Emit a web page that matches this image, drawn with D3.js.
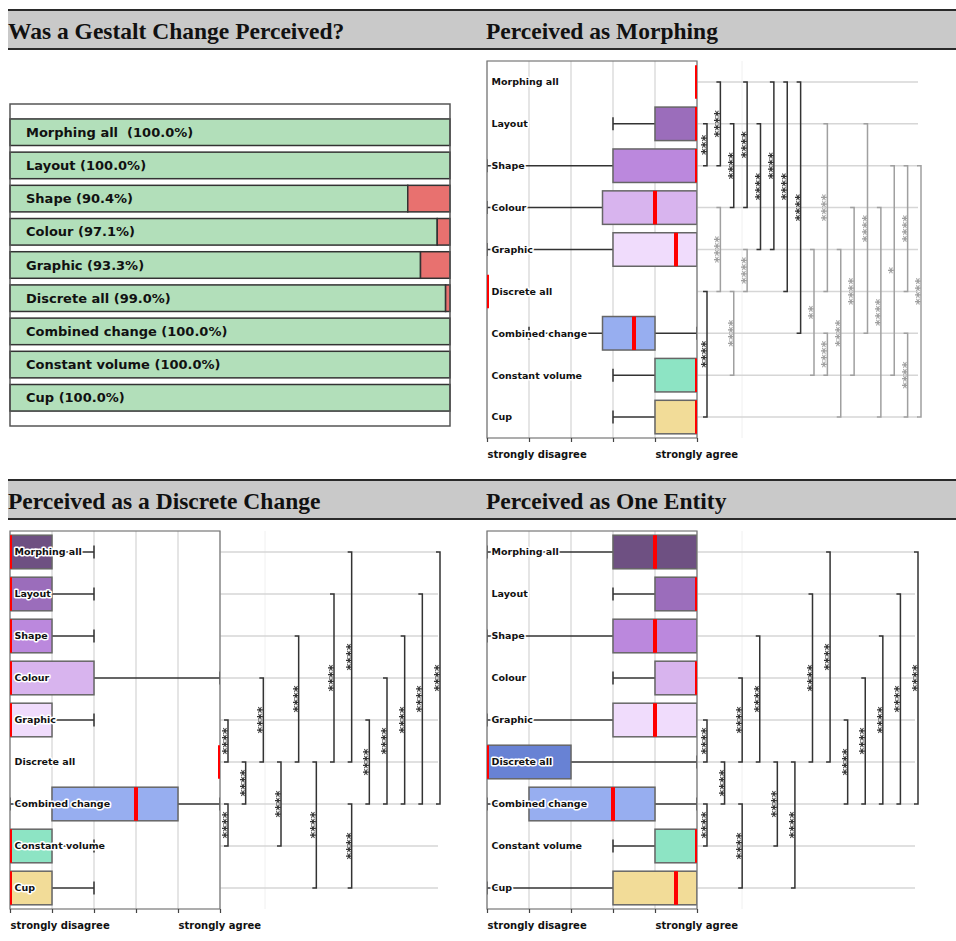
<!DOCTYPE html>
<html>
<head>
<meta charset="utf-8">
<script src="https://cdn.jsdelivr.net/npm/d3@7"></script>
<style>
  body { margin: 0; background: #fff; }
  text { font-family: "DejaVu Sans", sans-serif; }
  .stars { opacity: 0.995; will-change: transform; }
</style>
</head>
<body>
<div id="chart"></div>
<script>
// categories shared by all four panels
const categories = ["Morphing all", "Layout", "Shape", "Colour", "Graphic", "Discrete all", "Combined change", "Constant volume", "Cup"];
const boxColors = ["#6e5082", "#9b6dbb", "#bb88dd", "#d8b4ee", "#f0dcfc", "#6882d4", "#97aef0", "#8de4c4", "#f2dc98"];

// top left: share that perceived a gestalt change
const gestaltLabels = ["Morphing all  (100.0%)", "Layout (100.0%)", "Shape (90.4%)", "Colour (97.1%)", "Graphic (93.3%)", "Discrete all (99.0%)", "Combined change (100.0%)", "Constant volume (100.0%)", "Cup (100.0%)"];
const gestaltPct = [100.0, 100.0, 90.4, 97.1, 93.3, 99.0, 100.0, 100.0, 100.0];

const tickLabels = ["strongly disagree", "", "", "", "strongly agree", ""];
const headerTitles = [["Was a Gestalt Change Perceived?", "Perceived as Morphing"], ["Perceived as a Discrete Change", "Perceived as One Entity"]];

// box stats: [whisker low, q1, median, q3, whisker high]
const morphingStats = [
    [5, 5, 5, 5, 5], [3, 4, 5, 5, 5], [0, 3, 5, 5, 5], [0, 2.75, 4, 5, 5], [0, 3, 4.5, 5, 5],
    [0, 0, 0, 0, 0], [1, 2.75, 3.5, 4, 5], [3, 4, 5, 5, 5], [3, 4, 5, 5, 5]
];
const discreteStats = [
    [0, 0, 0, 1, 2], [0, 0, 0, 1, 2], [0, 0, 0, 1, 2], [0, 0, 0, 2, 5], [0, 0, 0, 1, 2],
    [5, 5, 5, 5, 5], [0, 1, 3, 4, 5], [0, 0, 0, 1, 2], [0, 0, 0, 1, 2]
];
const entityStats = [
    [0, 3, 4, 5, 5], [3, 4, 5, 5, 5], [0, 3, 4, 5, 5], [3, 4, 5, 5, 5], [0, 3, 4, 5, 5],
    [0, 0, 0, 2, 5], [0, 1, 3, 4, 5], [3, 4, 5, 5, 5], [0, 3, 4.5, 5, 5]
];

// significance brackets: [from row, to row, level, stars, dark?]
const morphingBrackets = [
    [1, 2, 0, "***", 1], [0, 2, 1, "****", 1], [1, 3, 2, "****", 1], [0, 3, 3, "****", 1],
    [1, 4, 4, "****", 1], [0, 4, 5, "****", 1], [0, 5, 6, "****", 1], [0, 6, 7, "****", 1],
    [5, 8, 0, "****", 1], [3, 5, 1, "****", 0], [5, 7, 2, "****", 0], [4, 5, 3, "****", 0],
    [4, 7, 8, "**", 0], [1, 5, 9, "****", 0], [6, 7, 9, "****", 0], [4, 8, 10, "****", 0],
    [3, 7, 11, "****", 0], [1, 6, 12, "****", 0], [3, 8, 13, "****", 0], [2, 7, 14, "*", 0],
    [2, 5, 15, "****", 0], [6, 8, 15, "****", 0], [2, 8, 16, "****", 0]
];
const discreteBrackets = [
    [4, 5, 0, "****", 1], [5, 6, 1, "****", 1], [6, 7, 0, "****", 1], [3, 5, 2, "****", 1],
    [5, 7, 3, "****", 1], [2, 5, 4, "****", 1], [5, 8, 5, "****", 1], [1, 5, 6, "****", 1],
    [0, 5, 7, "****", 1], [6, 8, 7, "****", 1], [4, 6, 8, "****", 1], [3, 6, 9, "****", 1],
    [2, 6, 10, "****", 1], [1, 6, 11, "****", 1], [0, 6, 12, "****", 1]
];
const entityBrackets = [
    [4, 5, 0, "****", 1], [5, 6, 1, "****", 1], [6, 7, 0, "****", 1], [3, 5, 2, "****", 1],
    [6, 8, 2, "****", 1], [2, 5, 3, "****", 1], [5, 7, 4, "****", 1], [5, 8, 5, "****", 1],
    [1, 5, 6, "****", 1], [0, 5, 7, "****", 1], [4, 6, 8, "****", 1], [3, 6, 9, "****", 1],
    [2, 6, 10, "****", 1], [1, 6, 11, "****", 1], [0, 6, 12, "****", 1]
];

const width = 956, height = 941;

let svg = d3.select("#chart")
    .append("svg")
    .attr("width", width)
    .attr("height", height);

// grey header bars
[10, 480].forEach((top, r) => {
    svg.append("rect")
        .attr("x", 8).attr("y", top)
        .attr("width", width - 8).attr("height", 39)
        .attr("fill", "#c9c9c9");
    svg.append("path")
        .attr("d", `M8,${top}H${width}M8,${top + 39}H${width}`)
        .attr("stroke", "#2a2a2a").attr("stroke-width", 2);
    headerTitles[r].forEach((t, c) => {
        svg.append("text")
            .attr("x", c ? 486 : 8).attr("y", top + 29)
            .style("font-family", "'Liberation Serif', serif")
            .style("font-size", "23.5px").style("font-weight", "bold")
            .attr("fill", "#111")
            .text(t);
    });
});

// ---- top left: stacked yes/no bars
{
    let x = d3.scaleLinear().domain([0, 100]).range([10, 450]);
    let y = d3.scaleBand().domain(categories).range([104, 426]).paddingInner(0.2).paddingOuter(0.45);
    let rows = categories.map((c, i) => ({ c, pct: gestaltPct[i], label: gestaltLabels[i] }));

    svg.append("g").selectAll("rect.yes").data(rows).join("rect")
        .attr("x", x(0)).attr("y", d => y(d.c))
        .attr("width", d => x(d.pct) - x(0)).attr("height", y.bandwidth())
        .attr("fill", "#b2dfba").attr("stroke", "#333").attr("stroke-width", 1.5);
    svg.append("g").selectAll("rect.no").data(rows.filter(d => d.pct < 100)).join("rect")
        .attr("x", d => x(d.pct)).attr("y", d => y(d.c))
        .attr("width", d => x(100) - x(d.pct)).attr("height", y.bandwidth())
        .attr("fill", "#e8716f").attr("stroke", "#333").attr("stroke-width", 1.5);
    svg.append("g").selectAll("text").data(rows).join("text")
        .attr("x", x(0) + 16).attr("y", d => y(d.c) + y.bandwidth() / 2)
        .attr("dy", "0.36em")
        .style("font-size", "13px").style("font-weight", "bold")
        .attr("fill", "#111")
        .attr("xml:space", "preserve")
        .style("white-space", "pre")
        .text(d => d.label);
    svg.append("rect")
        .attr("x", 10).attr("y", 104).attr("width", 440).attr("height", 322)
        .attr("fill", "none").attr("stroke", "#555").attr("stroke-width", 1.5);
}

// ---- box plot panels with significance brackets
function boxPanel(stats, brackets, p) {
    let x = d3.scaleLinear().domain([0, 5]).range([p.left, p.right]);
    let y = d3.scaleBand().domain(categories).range([p.top, p.bottom]).paddingInner(0.2).paddingOuter(0.1);
    let cy = c => y(c) + y.bandwidth() / 2;
    let bx = d3.scaleLinear().domain([0, p.levels - 1]).range([p.bLeft, p.bRight]);
    let g = svg.append("g");

    g.append("clipPath").attr("id", "clip" + p.id)
        .append("rect")
        .attr("x", p.left).attr("y", p.top)
        .attr("width", p.right - p.left).attr("height", p.bottom - p.top);

    // grid lines
    g.append("g").selectAll("line").data(x.ticks(5)).join("line")
        .attr("x1", d => x(d)).attr("x2", d => x(d))
        .attr("y1", p.top).attr("y2", p.bottom)
        .attr("stroke", "#dcdcdc").attr("stroke-width", 1.5);
    g.append("line")
        .attr("x1", p.right + 45).attr("x2", p.right + 45)
        .attr("y1", p.top).attr("y2", p.bottom)
        .attr("stroke", "#f0f0f0").attr("stroke-width", 1);
    g.append("g").selectAll("line").data(categories).join("line")
        .attr("x1", p.right).attr("x2", p.lineEnd)
        .attr("y1", cy).attr("y2", cy)
        .attr("stroke", "#d6d6d6").attr("stroke-width", 1.5);

    let rows = categories.map((c, i) => ({ c, s: stats[i], color: boxColors[i] }));
    let plot = g.append("g").attr("clip-path", `url(#clip${p.id})`);

    // whiskers and caps
    plot.append("g").selectAll("path").data(rows).join("path")
        .attr("d", d => {
            let m = cy(d.c), h = 6.5;
            return `M${x(d.s[0])},${m}H${x(d.s[1])}M${x(d.s[3])},${m}H${x(d.s[4])}` +
                `M${x(d.s[0])},${m - h}V${m + h}M${x(d.s[4])},${m - h}V${m + h}`;
        })
        .attr("fill", "none").attr("stroke", "#333").attr("stroke-width", 1.5);

    // boxes
    plot.append("g").selectAll("rect").data(rows.filter(d => d.s[3] > d.s[1])).join("rect")
        .attr("x", d => x(d.s[1])).attr("y", d => y(d.c))
        .attr("width", d => x(d.s[3]) - x(d.s[1])).attr("height", y.bandwidth())
        .attr("fill", d => d.color).attr("stroke", "#666").attr("stroke-width", 1.5);

    // category labels with white halo
    g.append("g").selectAll("text").data(rows).join("text")
        .attr("x", p.left + 4.5).attr("y", d => cy(d.c))
        .attr("dy", "0.36em")
        .style("font-size", "9.5px").style("font-weight", "bold")
        .attr("fill", "#111")
        .attr("stroke", "#fff").attr("stroke-width", 3)
        .attr("stroke-linejoin", "round")
        .style("paint-order", "stroke")
        .text(d => d.c);

    // frame
    g.append("rect")
        .attr("x", p.left).attr("y", p.top)
        .attr("width", p.right - p.left).attr("height", p.bottom - p.top)
        .attr("fill", "none").attr("stroke", "#777").attr("stroke-width", 1.2);

    // medians (drawn over the frame like the original)
    g.append("g").attr("clip-path", `url(#clip${p.id})`)
        .selectAll("line").data(rows).join("line")
        .attr("x1", d => x(d.s[2])).attr("x2", d => x(d.s[2]))
        .attr("y1", d => y(d.c)).attr("y2", d => y(d.c) + y.bandwidth())
        .attr("stroke", "#ff0000").attr("stroke-width", 4);

    // x axis
    g.append("g")
        .attr("transform", `translate(0,${p.bottom})`)
        .call(d3.axisBottom(x).tickValues(d3.range(6)).tickSize(4).tickPadding(9)
            .tickFormat((d, i) => tickLabels[i]))
        .call(a => a.select(".domain").remove())
        .call(a => a.selectAll(".tick line").attr("stroke", "#444").attr("stroke-width", 1.2))
        .call(a => a.selectAll(".tick text")
            .attr("text-anchor", "start")
            .style("font-family", "'DejaVu Sans', sans-serif")
            .style("font-size", "10px").style("font-weight", "bold")
            .attr("fill", "#111"));

    // significance brackets
    let br = brackets.map(b => ({
        y1: cy(categories[b[0]]), y2: cy(categories[b[1]]),
        bx: bx(b[2]), stars: b[3], col: b[4] ? "#333" : "#a0a0a0"
    }));
    g.append("g").selectAll("path").data(br).join("path")
        .attr("d", d => `M${d.bx - 4},${d.y1}H${d.bx}V${d.y2}H${d.bx - 4}`)
        .attr("fill", "none").attr("stroke", d => d.col).attr("stroke-width", 1.5);
    g.append("g").attr("class", "stars")
        .selectAll("text").data(br).join("text")
        .attr("transform", d => `translate(${d.bx + 3},${(d.y1 + d.y2) / 2}) rotate(-90)`)
        .attr("text-anchor", "middle")
        .style("font-size", "13px").style("font-weight", "bold")
        .attr("fill", d => d.col)
        .text(d => d.stars);
}

boxPanel(morphingStats, morphingBrackets,
    { id: 1, left: 487, right: 697, top: 61, bottom: 438, lineEnd: 918, levels: 17, bLeft: 707, bRight: 921 });
boxPanel(discreteStats, discreteBrackets,
    { id: 2, left: 10, right: 220, top: 531, bottom: 909, lineEnd: 438, levels: 13, bLeft: 228, bRight: 440 });
boxPanel(entityStats, entityBrackets,
    { id: 3, left: 487, right: 697, top: 531, bottom: 909, lineEnd: 915, levels: 13, bLeft: 707, bRight: 918 });
</script>
</body>
</html>
